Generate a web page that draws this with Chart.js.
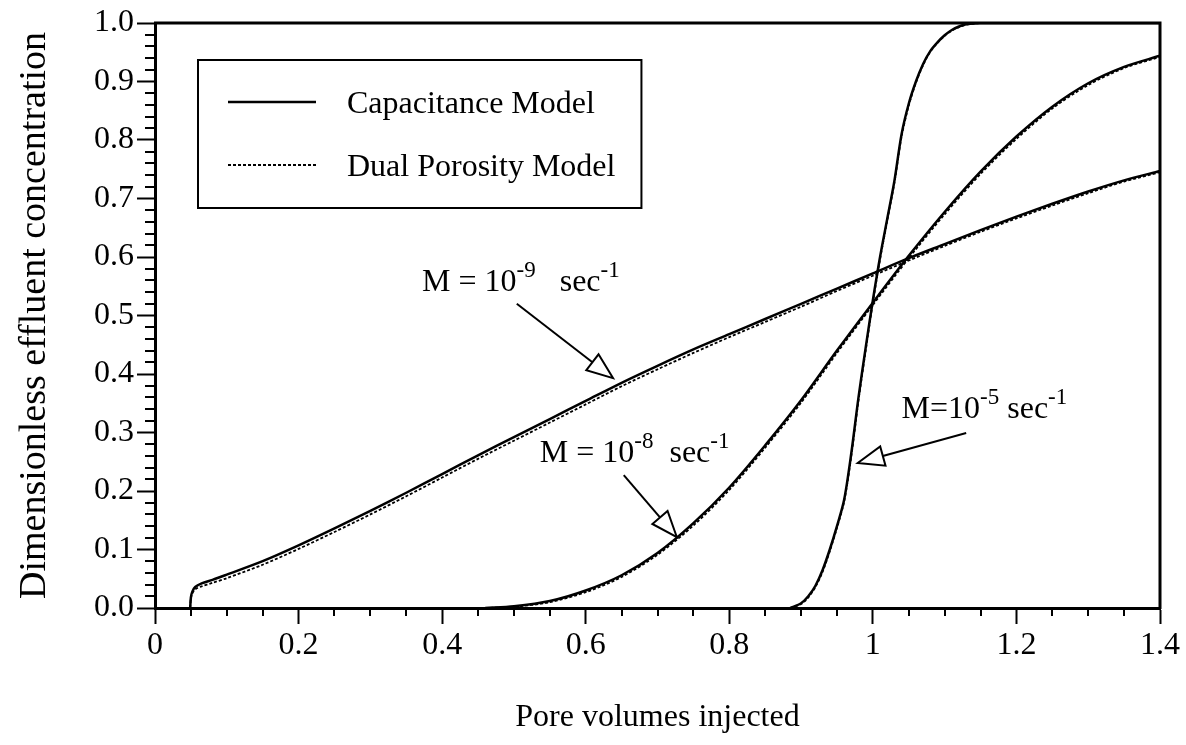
<!DOCTYPE html>
<html>
<head>
<meta charset="utf-8">
<script src="https://cdn.jsdelivr.net/npm/chart.js@4/dist/chart.umd.min.js"></script>
<style>
  html, body { margin: 0; padding: 0; background: #fff; }
  #wrap { width: 1186px; height: 745px; }
</style>
</head>
<body>
<div id="wrap"><canvas id="c" width="1186" height="745"></canvas></div>
<script>
// Axis tick labels
const xTickLabels = ['0', '0.2', '0.4', '0.6', '0.8', '1', '1.2', '1.4'];
const yTickLabels = ['0.0', '0.1', '0.2', '0.3', '0.4', '0.5', '0.6', '0.7', '0.8', '0.9', '1.0'];

// M = 1e-9 sec^-1
const pvM9 = [0.049, 0.05, 0.052, 0.056, 0.065, 0.08, 0.1, 0.15, 0.2, 0.25, 0.3, 0.35, 0.4, 0.45, 0.5, 0.55, 0.6, 0.65, 0.7, 0.75, 0.8, 0.85, 0.9, 0.95, 1.0, 1.05, 1.1, 1.15, 1.2, 1.25, 1.3, 1.35, 1.4];
const capM9 = [0, 0.018, 0.028, 0.036, 0.042, 0.048, 0.057, 0.08, 0.107, 0.136, 0.166, 0.197, 0.229, 0.261, 0.292, 0.323, 0.354, 0.385, 0.414, 0.442, 0.468, 0.494, 0.52, 0.546, 0.572, 0.598, 0.622, 0.646, 0.669, 0.691, 0.712, 0.731, 0.747];
const dualM9 = [0, 0.016, 0.025, 0.032, 0.037, 0.043, 0.051, 0.074, 0.101, 0.13, 0.16, 0.191, 0.223, 0.255, 0.286, 0.317, 0.348, 0.379, 0.408, 0.436, 0.463, 0.489, 0.515, 0.542, 0.568, 0.594, 0.619, 0.643, 0.666, 0.688, 0.709, 0.729, 0.745];

// M = 1e-8 sec^-1
const pvM8 = [0.46, 0.5, 0.55, 0.6, 0.65, 0.7, 0.75, 0.8, 0.85, 0.9, 0.95, 1.0, 1.05, 1.1, 1.15, 1.2, 1.25, 1.3, 1.35, 1.4];
const capM8 = [0, 0.003, 0.012, 0.03, 0.056, 0.094, 0.145, 0.206, 0.278, 0.355, 0.44, 0.522, 0.602, 0.677, 0.746, 0.806, 0.857, 0.897, 0.925, 0.944];
const dualM8 = [0, 0.002, 0.01, 0.027, 0.053, 0.091, 0.141, 0.202, 0.274, 0.351, 0.436, 0.518, 0.598, 0.673, 0.742, 0.802, 0.854, 0.894, 0.923, 0.942];

// M = 1e-5 sec^-1
const pvM5 = [0.885, 0.9, 0.91, 0.92, 0.93, 0.94, 0.95, 0.96, 0.97, 0.98, 0.99, 1.0, 1.01, 1.02, 1.03, 1.04, 1.05, 1.06, 1.07, 1.08, 1.09, 1.1, 1.11, 1.12, 1.13, 1.15, 1.2, 1.3, 1.4];
const capM5 = [0, 0.008, 0.02, 0.038, 0.065, 0.1, 0.14, 0.185, 0.265, 0.36, 0.445, 0.526, 0.6, 0.665, 0.73, 0.81, 0.862, 0.9, 0.93, 0.952, 0.967, 0.979, 0.988, 0.994, 0.998, 1.0, 1.0, 1.0, 1.0];
const dualM5 = [0, 0.007, 0.018, 0.036, 0.062, 0.097, 0.137, 0.182, 0.26, 0.355, 0.44, 0.522, 0.596, 0.662, 0.727, 0.806, 0.859, 0.898, 0.928, 0.951, 0.966, 0.978, 0.987, 0.993, 0.997, 1.0, 1.0, 1.0, 1.0];

const SERIF = '"Liberation Serif", "Times New Roman", serif';
const FS = 32;

function pts(xs, ys) { return xs.map((x, i) => ({ x: x, y: ys[i] })); }

function solid(label, data) {
  return { label, data, borderColor: '#000', borderWidth: 2.5, pointRadius: 0, tension: 0.3, fill: false };
}
function dotted(label, data) {
  return { label, data, borderColor: '#000', borderWidth: 1.8, borderDash: [3, 2], pointRadius: 0, tension: 0.3, fill: false };
}

// Curve annotations: text anchor, arrow tail and arrow tip in data units
const notes = [
  { parts: [['M = 10', 0], ['-9', 1], ['   sec', 0], ['-1', 1]], at: [0.372, 0.542], tail: [0.504, 0.52], tip: [0.638, 0.393] },
  { parts: [['M = 10', 0], ['-8', 1], ['  sec', 0], ['-1', 1]], at: [0.536, 0.25], tail: [0.653, 0.227], tip: [0.727, 0.121] },
  { parts: [['M=10', 0], ['-5', 1], [' sec', 0], ['-1', 1]], at: [1.04, 0.325], tail: [1.13, 0.299], tip: [0.979, 0.248] }
];

const frameAndExtras = {
  id: 'frameAndExtras',
  afterDraw(chart) {
    const { ctx, chartArea: a, scales: { x, y } } = chart;
    ctx.save();
    ctx.strokeStyle = '#000';
    ctx.fillStyle = '#000';

    // top and right frame lines
    ctx.lineWidth = 3;
    ctx.beginPath();
    ctx.moveTo(a.left - 1, a.top);
    ctx.lineTo(a.right, a.top);
    ctx.lineTo(a.right, a.bottom + 1);
    ctx.stroke();

    // minor ticks, pointing outward
    ctx.lineWidth = 2;
    ctx.beginPath();
    for (let k = 1; k < 28; k++) {
      if (k % 4 === 0) continue;
      const px = Math.round(x.getPixelForValue(k * 0.05));
      ctx.moveTo(px, a.bottom);
      ctx.lineTo(px, a.bottom + 8);
    }
    for (let k = 1; k < 50; k++) {
      if (k % 5 === 0) continue;
      const py = Math.round(y.getPixelForValue(k * 0.02));
      ctx.moveTo(a.left, py);
      ctx.lineTo(a.left - 10, py);
    }
    ctx.stroke();

    // legend box
    ctx.font = FS + 'px ' + SERIF;
    ctx.textBaseline = 'middle';
    ctx.textAlign = 'left';
    const items = [chart.data.datasets[0], chart.data.datasets[1]];
    const bx = a.left + 43, by = a.top + 37;
    const tx = bx + 149;
    const tw = Math.max(...items.map(d => ctx.measureText(d.label).width));
    const bw = tx - bx + tw + 26, bh = 148;
    ctx.fillStyle = '#fff';
    ctx.fillRect(bx, by, bw, bh);
    ctx.fillStyle = '#000';
    ctx.lineWidth = 2;
    ctx.strokeRect(bx, by, bw, bh);
    items.forEach((d, i) => {
      const ly = by + 42 + i * 63;
      ctx.save();
      ctx.lineWidth = d.borderWidth;
      ctx.setLineDash(d.borderDash || []);
      ctx.beginPath();
      ctx.moveTo(bx + 30, ly);
      ctx.lineTo(bx + 118, ly);
      ctx.stroke();
      ctx.restore();
      ctx.fillText(d.label, tx, ly + 3);
    });

    // curve annotations with hollow-headed arrows
    notes.forEach(n => {
      let cx = x.getPixelForValue(n.at[0]);
      const cy = y.getPixelForValue(n.at[1]);
      ctx.textBaseline = 'alphabetic';
      n.parts.forEach(([t, sup]) => {
        ctx.font = (sup ? 23 : FS) + 'px ' + SERIF;
        ctx.fillText(t, cx, sup ? cy - 14 : cy);
        cx += ctx.measureText(t).width;
      });
      const x0 = x.getPixelForValue(n.tail[0]), y0 = y.getPixelForValue(n.tail[1]);
      const x1 = x.getPixelForValue(n.tip[0]), y1 = y.getPixelForValue(n.tip[1]);
      const ang = Math.atan2(y1 - y0, x1 - x0);
      const hl = 26, hw = 10;
      const bxp = x1 - hl * Math.cos(ang), byp = y1 - hl * Math.sin(ang);
      ctx.lineWidth = 2;
      ctx.beginPath();
      ctx.moveTo(x0, y0);
      ctx.lineTo(bxp, byp);
      ctx.stroke();
      ctx.beginPath();
      ctx.moveTo(x1, y1);
      ctx.lineTo(bxp + hw * Math.sin(ang), byp - hw * Math.cos(ang));
      ctx.lineTo(bxp - hw * Math.sin(ang), byp + hw * Math.cos(ang));
      ctx.closePath();
      ctx.fillStyle = '#fff';
      ctx.fill();
      ctx.stroke();
      ctx.fillStyle = '#000';
    });
    ctx.restore();
  }
};

new Chart(document.getElementById('c'), {
  type: 'line',
  data: {
    datasets: [
      solid('Capacitance Model', pts(pvM9, capM9)),
      dotted('Dual Porosity Model', pts(pvM9, dualM9)),
      solid('Capacitance Model', pts(pvM8, capM8)),
      dotted('Dual Porosity Model', pts(pvM8, dualM8)),
      solid('Capacitance Model', pts(pvM5, capM5)),
      dotted('Dual Porosity Model', pts(pvM5, dualM5))
    ]
  },
  options: {
    responsive: false,
    devicePixelRatio: 1,
    animation: false,
    layout: { padding: { top: 23, right: 26, left: 0, bottom: 0 } },
    plugins: { legend: { display: false }, tooltip: { enabled: false } },
    scales: {
      x: {
        type: 'linear', min: 0, max: 1.4,
        afterBuildTicks: s => { s.ticks = xTickLabels.map(v => ({ value: parseFloat(v) })); },
        ticks: { callback: (v, i) => xTickLabels[i], font: { family: SERIF, size: FS }, color: '#000', maxRotation: 0, padding: 2 },
        grid: { drawOnChartArea: false, tickLength: 16, tickWidth: 2, color: '#000' },
        border: { width: 3, color: '#000' },
        title: { display: true, text: 'Pore volumes injected', font: { family: SERIF, size: 32 }, color: '#000', padding: { bottom: 8 } },
        afterFit: s => { s.height = 137; s.paddingLeft = 0; s.paddingRight = 0; }
      },
      y: {
        type: 'linear', min: 0, max: 1,
        afterBuildTicks: s => { s.ticks = yTickLabels.map(v => ({ value: parseFloat(v) })); },
        ticks: { callback: (v, i) => yTickLabels[i], font: { family: SERIF, size: FS }, color: '#000', padding: 3 },
        grid: { drawOnChartArea: false, tickLength: 18, tickWidth: 2, color: '#000' },
        border: { width: 3, color: '#000' },
        title: { display: true, text: 'Dimensionless effluent concentration', font: { family: SERIF, size: 38 }, color: '#000', padding: { top: 12 } },
        afterFit: s => { s.width = 155; s.paddingTop = 0; s.paddingBottom = 0; }
      }
    }
  },
  plugins: [frameAndExtras]
});
</script>
</body>
</html>
